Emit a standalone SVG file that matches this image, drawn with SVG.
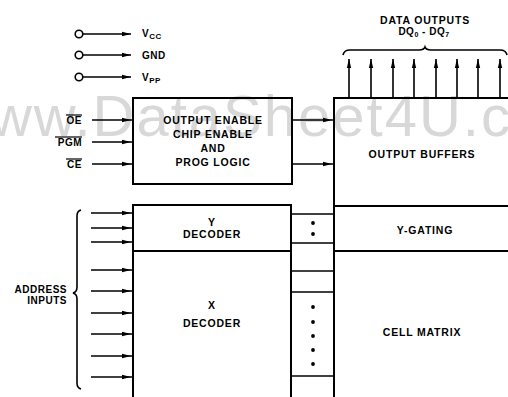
<svg xmlns="http://www.w3.org/2000/svg" width="508" height="397" viewBox="0 0 508 397">
<defs>
<style>
.t{font-family:"Liberation Sans",Arial,sans-serif;font-weight:bold;font-size:10.5px;letter-spacing:0.8px;fill:#000}
.s{font-family:"Liberation Sans",Arial,sans-serif;font-weight:bold;font-size:10px;letter-spacing:0.5px;fill:#000}
.box{fill:none;stroke:#000;stroke-width:2}
.w{stroke:#000;stroke-width:1.6;fill:none}
.ov{stroke:#000;stroke-width:1.2}
.wm{font-family:"Liberation Sans",Arial,sans-serif;font-size:58px;fill:#d8d8d8}
</style>
<marker id="ar" viewBox="0 0 9 6" markerWidth="9" markerHeight="6" refX="11" refY="3" orient="auto" markerUnits="userSpaceOnUse">
<path d="M0,0.8 L9,3 L0,5.2 z" fill="#000"/>
</marker>
<marker id="at" viewBox="0 0 9 6" markerWidth="9" markerHeight="6" refX="9" refY="3" orient="auto" markerUnits="userSpaceOnUse">
<path d="M0,0.8 L9,3 L0,5.2 z" fill="#000"/>
</marker>
</defs>
<rect width="508" height="397" fill="#fff"/>
<text class="wm" x="-54" y="136" letter-spacing="2">www.DataSheet4U.com</text>

<g id="power">
<circle cx="79" cy="34" r="3.8" fill="#fff" stroke="#000" stroke-width="1.6"/>
<circle cx="79" cy="55" r="3.8" fill="#fff" stroke="#000" stroke-width="1.6"/>
<circle cx="79" cy="77" r="3.8" fill="#fff" stroke="#000" stroke-width="1.6"/>
<text class="s" x="142" y="37">V<tspan font-size="8" dy="2">CC</tspan></text>
<text class="s" x="142" y="59">GND</text>
<text class="s" x="142" y="81">V<tspan font-size="8" dy="2">PP</tspan></text>
</g>

<g id="control-labels">
<text class="s" x="82" y="124" text-anchor="end">OE</text>
<text class="s" x="82" y="146" text-anchor="end">PGM</text>
<text class="s" x="82" y="168" text-anchor="end">CE</text>
<line class="ov" x1="66" y1="115" x2="82" y2="115"/>
<line class="ov" x1="55" y1="137" x2="82" y2="137"/>
<line class="ov" x1="66" y1="159" x2="82" y2="159"/>
</g>

<g id="address-label">
<path class="w" stroke-width="1.1" d="M81,210 Q77,211 77,216 L77,287 Q77,292 73,293 Q77,294 77,299 L77,383 Q77,388 81,389"/>
<text class="s" x="67" y="293" text-anchor="end">ADDRESS</text>
<text class="s" x="67" y="304" text-anchor="end">INPUTS</text>
</g>

<g id="data-outputs-label">
<text class="t" x="425" y="24" text-anchor="middle">DATA OUTPUTS</text>
<text class="s" x="424" y="35" text-anchor="middle">DQ<tspan font-size="7" dy="2">0</tspan><tspan dy="-2"> - DQ</tspan><tspan font-size="7" dy="2">7</tspan></text>
<path class="w" stroke-width="1.2" d="M343,55 Q344,50 350,50 L419,50 Q424,50 425,47 Q426,50 431,50 L500,50 Q506,50 507,55"/>
</g>

<g id="control-logic">
<rect class="box" x="133" y="98" width="159" height="86"/>
<text class="t" x="213" y="124" text-anchor="middle">OUTPUT ENABLE</text>
<text class="t" x="213" y="138" text-anchor="middle">CHIP ENABLE</text>
<text class="t" x="213" y="152" text-anchor="middle">AND</text>
<text class="t" x="213" y="166" text-anchor="middle">PROG LOGIC</text>
</g>

<g id="output-buffers">
<rect class="box" x="334" y="98" width="190" height="108"/>
<text class="t" x="422" y="158" text-anchor="middle">OUTPUT BUFFERS</text>
</g>

<g id="y-gating">
<rect class="box" x="334" y="206" width="190" height="45"/>
<text class="t" x="425" y="234" text-anchor="middle">Y-GATING</text>
</g>

<g id="cell-matrix">
<rect class="box" x="334" y="251" width="190" height="160"/>
<text class="t" x="422" y="336" text-anchor="middle">CELL MATRIX</text>
</g>

<g id="y-decoder">
<rect class="box" x="133" y="205" width="158" height="46"/>
<text class="t" x="212" y="226" text-anchor="middle">Y</text>
<text class="t" x="212" y="238" text-anchor="middle">DECODER</text>
</g>

<g id="x-decoder">
<rect class="box" x="133" y="251" width="158" height="160"/>
<text class="t" x="212" y="309" text-anchor="middle">X</text>
<text class="t" x="212" y="327" text-anchor="middle">DECODER</text>
</g>

<g id="connectors">
<line class="w" x1="83" y1="34" x2="131" y2="34" marker-end="url(#at)"/>
<line class="w" x1="83" y1="55" x2="131" y2="55" marker-end="url(#at)"/>
<line class="w" x1="83" y1="77" x2="131" y2="77" marker-end="url(#at)"/>

<line class="w" x1="92" y1="120" x2="133" y2="120" marker-end="url(#ar)"/>
<line class="w" x1="92" y1="142" x2="133" y2="142" marker-end="url(#ar)"/>
<line class="w" x1="92" y1="164" x2="133" y2="164" marker-end="url(#ar)"/>

<line class="w" x1="292" y1="120" x2="334" y2="120" marker-end="url(#ar)"/>
<line class="w" x1="292" y1="164" x2="334" y2="164" marker-end="url(#ar)"/>

<line class="w" x1="91" y1="213" x2="133" y2="213" marker-end="url(#ar)"/>
<line class="w" x1="91" y1="228" x2="133" y2="228" marker-end="url(#ar)"/>
<line class="w" x1="91" y1="242" x2="133" y2="242" marker-end="url(#ar)"/>
<line class="w" x1="91" y1="270" x2="133" y2="270" marker-end="url(#ar)"/>
<line class="w" x1="91" y1="291" x2="133" y2="291" marker-end="url(#ar)"/>
<line class="w" x1="91" y1="313" x2="133" y2="313" marker-end="url(#ar)"/>
<line class="w" x1="91" y1="334" x2="133" y2="334" marker-end="url(#ar)"/>
<line class="w" x1="91" y1="356" x2="133" y2="356" marker-end="url(#ar)"/>
<line class="w" x1="91" y1="377" x2="133" y2="377" marker-end="url(#ar)"/>

<line class="w" x1="291" y1="214" x2="334" y2="214"/>
<line class="w" x1="291" y1="243" x2="334" y2="243"/>
<line class="w" x1="291" y1="271" x2="334" y2="271"/>
<line class="w" x1="291" y1="292" x2="334" y2="292"/>
<line class="w" x1="291" y1="376" x2="334" y2="376"/>
<g fill="#000">
<circle cx="313" cy="223" r="1.9"/>
<circle cx="313" cy="234" r="1.9"/>
<circle cx="313" cy="307" r="1.9"/>
<circle cx="313" cy="322" r="1.9"/>
<circle cx="313" cy="336" r="1.9"/>
<circle cx="313" cy="350" r="1.9"/>
<circle cx="313" cy="364" r="1.9"/>
</g>

<line class="w" x1="349" y1="98" x2="349" y2="59" marker-end="url(#at)"/>
<line class="w" x1="371" y1="98" x2="371" y2="59" marker-end="url(#at)"/>
<line class="w" x1="393" y1="98" x2="393" y2="59" marker-end="url(#at)"/>
<line class="w" x1="414" y1="98" x2="414" y2="59" marker-end="url(#at)"/>
<line class="w" x1="436" y1="98" x2="436" y2="59" marker-end="url(#at)"/>
<line class="w" x1="457" y1="98" x2="457" y2="59" marker-end="url(#at)"/>
<line class="w" x1="478" y1="98" x2="478" y2="59" marker-end="url(#at)"/>
<line class="w" x1="500" y1="98" x2="500" y2="59" marker-end="url(#at)"/>
</g>
</svg>
